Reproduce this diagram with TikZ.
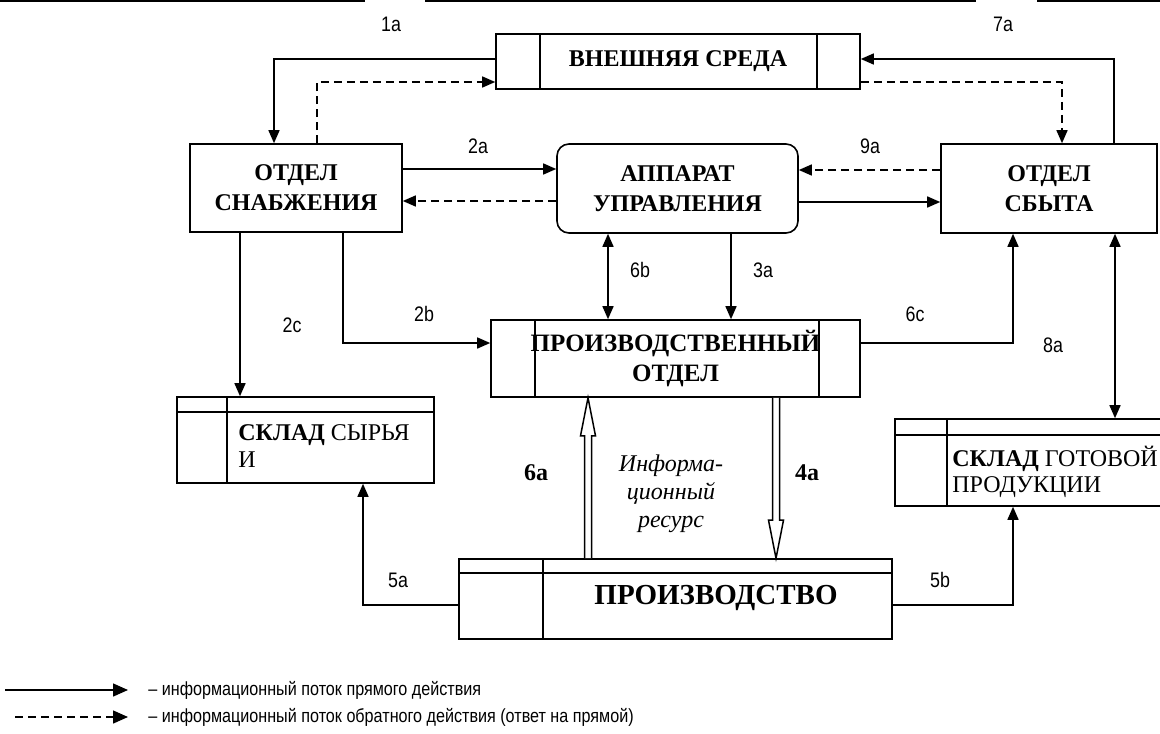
\documentclass[tikz,border=0pt]{standalone}
\usepackage{fontspec}
\setmainfont{Liberation Serif}
\newfontfamily\narrowsans[FakeStretch=0.85]{Liberation Sans}
\usetikzlibrary{arrows.meta}
\tikzset{
  box/.style={draw, line width=0.8pt, inner sep=0pt, align=center,
    font=\fontsize{12}{15}\selectfont\bfseries},
  flow/.style={line width=0.75pt, -{Triangle[length=6.5pt,width=5.5pt]}},
  flowback/.style={flow, dash pattern=on 4pt off 2.5pt},
  both/.style={line width=0.75pt, {Triangle[length=6.5pt,width=5.5pt]}-{Triangle[length=6.5pt,width=5.5pt]}},
  legtip/.style={-{Triangle[length=7.5pt,width=6.5pt]}},
  hollow/.style={line width=0.75pt, fill=white},
  lbl/.style={inner sep=0pt, font=\narrowsans\fontsize{10.5}{12}\selectfont},
  num/.style={inner sep=0pt, font=\fontsize{12}{14}\selectfont\bfseries},
}
\begin{document}
\begin{tikzpicture}[x=0.5pt, y=-0.5pt, line join=miter]
\useasboundingbox (0,0) rectangle (1160,733);
\clip (0,0) rectangle (1160,733);
\draw[line width=1.5pt] (0,1) -- (365,1) (425,1) -- (976,1) (1037,1) -- (1160,1);
% boxes
\node[box, minimum width=182pt, minimum height=27.5pt] (vnesh) at (678,61.5) {ВНЕШНЯЯ СРЕДА};
\draw[line width=0.8pt] ([xshift=22.5pt]vnesh.north west) -- ([xshift=22.5pt]vnesh.south west)
  ([xshift=-22pt]vnesh.north east) -- ([xshift=-22pt]vnesh.south east);
\node[box, minimum width=106pt, minimum height=44pt] (snab) at (296,188) {ОТДЕЛ\\СНАБЖЕНИЯ};
\node[box, rounded corners=6pt, minimum width=120.5pt, minimum height=44.5pt] (appar) at (677.5,188.5) {АППАРАТ\\УПРАВЛЕНИЯ};
\node[box, minimum width=108pt, minimum height=44.5pt] (sbyt) at (1049,188.5) {ОТДЕЛ\\СБЫТА};
\node[box, minimum width=184.5pt, minimum height=38.5pt, font=\fontsize{12.5}{15}\selectfont\bfseries] (proizvotd) at (675.5,358.5) {ПРОИЗВОДСТВЕННЫЙ\\ОТДЕЛ};
\draw[line width=0.8pt] ([xshift=22.5pt]proizvotd.north west) -- ([xshift=22.5pt]proizvotd.south west)
  ([xshift=-21pt]proizvotd.north east) -- ([xshift=-21pt]proizvotd.south east);
\node[box, minimum width=128.5pt, minimum height=43pt] (skladsyr) at (305.5,440) {};
\draw[line width=0.8pt] ([yshift=-8pt]skladsyr.north west) -- ([yshift=-8pt]skladsyr.north east)
  ([xshift=25.5pt]skladsyr.north west) -- ([xshift=25.5pt]skladsyr.south west);
\node[anchor=north west, inner sep=0pt, align=left, font=\fontsize{12}{13.5}\selectfont] (syrtxt) at (238,424) {\textbf{СКЛАД} СЫРЬЯ\\И};
\node[box, minimum width=152.5pt, minimum height=43.5pt] (skladgot) at (1047.5,462.5) {};
\draw[line width=0.8pt] ([yshift=-8.5pt]skladgot.north west) -- ([yshift=-8.5pt]skladgot.north east)
  ([xshift=26.5pt]skladgot.north west) -- ([xshift=26.5pt]skladgot.south west);
\node[anchor=north west, inner sep=0pt, align=left, font=\fontsize{12}{13}\selectfont] (gottxt) at (952,446) {\textbf{СКЛАД} ГОТОВОЙ\\ПРОДУКЦИИ};
\node[box, minimum width=216.5pt, minimum height=40pt] (proizv) at (675.5,599) {};
\draw[line width=0.8pt] ([yshift=-7.5pt]proizv.north west) -- ([yshift=-7.5pt]proizv.north east)
  ([xshift=42.5pt]proizv.north west) -- ([xshift=42.5pt]proizv.south west);
\node[inner sep=0pt, font=\fontsize{14.5}{16}\selectfont\bfseries] (proizvtxt) at (716,598) {ПРОИЗВОДСТВО};
% connectors
\draw[flow] ([yshift=1.25pt]vnesh.west) -| ([xshift=-11pt]snab.north);
\draw[flowback] ([xshift=10.5pt]snab.north) |- ([yshift=-10.25pt]vnesh.west);
\draw[flow] ([xshift=32.5pt]sbyt.north) |- ([yshift=1.25pt]vnesh.east);
\draw[flowback] ([yshift=-10.25pt]vnesh.east) -| ([xshift=6.5pt]sbyt.north);
\draw[flow] ([yshift=9.5pt]snab.east) -- ([yshift=9.5pt]snab.east -| appar.west);
\draw[flowback] ([yshift=-6.5pt]snab.east -| appar.west) -- ([yshift=-6.5pt]snab.east);
\draw[flowback] ([yshift=9.25pt]sbyt.west) -- ([yshift=9.25pt]sbyt.west -| appar.east);
\draw[flow] ([yshift=-6.75pt]sbyt.west -| appar.east) -- ([yshift=-6.75pt]sbyt.west);
\draw[both] ([xshift=-34.75pt]appar.south) -- ([xshift=-34.75pt]appar.south |- proizvotd.north);
\draw[flow] ([xshift=26.75pt]appar.south) -- ([xshift=26.75pt]appar.south |- proizvotd.north);
\draw[flow] ([xshift=23.5pt]snab.south) |- ([yshift=7.75pt]proizvotd.west);
\draw[flow] ([xshift=-28pt]snab.south) -- ([xshift=-28pt]snab.south |- skladsyr.north);
\draw[flow] ([yshift=7.75pt]proizvotd.east) -| ([xshift=-18pt]sbyt.south);
\draw[both] ([xshift=33pt]sbyt.south) -- ([xshift=33pt]sbyt.south |- skladgot.north);
\draw[flow] ([yshift=-3pt]proizv.west) -| ([xshift=28.75pt]skladsyr.south);
\draw[flow] ([yshift=-3pt]proizv.east) -| ([xshift=-17.25pt]skladgot.south);
% hollow arrows
\coordinate (f6a) at ([xshift=-43.75pt]proizv.north);
\coordinate (t6a) at (f6a |- proizvotd.south);
\draw[hollow] ([xshift=-1.75pt]f6a) -- ([xshift=-1.75pt,yshift=-19pt]t6a) -- ([xshift=-3.75pt,yshift=-19pt]t6a)
  -- (t6a) -- ([xshift=3.75pt,yshift=-19pt]t6a) -- ([xshift=1.75pt,yshift=-19pt]t6a) -- ([xshift=1.75pt]f6a);
\coordinate (f4a) at ([xshift=50.25pt]proizvotd.south);
\coordinate (t4a) at (f4a |- proizv.north);
\draw[hollow] ([xshift=-1.75pt]f4a) -- ([xshift=-1.75pt,yshift=19pt]t4a) -- ([xshift=-3.75pt,yshift=19pt]t4a)
  -- (t4a) -- ([xshift=3.75pt,yshift=19pt]t4a) -- ([xshift=1.75pt,yshift=19pt]t4a) -- ([xshift=1.75pt]f4a);
\node[align=center, inner sep=0pt, font=\fontsize{12}{14}\selectfont\itshape] (resurs) at (671,494) {Информа-\\ционный\\ресурс};
% labels
\node[lbl] (l1a) at (391,24) {1a};
\node[lbl] (l7a) at (1003,24) {7a};
\node[lbl] (l2a) at (478,146) {2a};
\node[lbl] (l9a) at (870,146) {9a};
\node[lbl] (l6b) at (640,270) {6b};
\node[lbl] (l3a) at (763,270) {3a};
\node[lbl] (l2c) at (292,325) {2c};
\node[lbl] (l2b) at (424,314) {2b};
\node[lbl] (l6c) at (915,314) {6c};
\node[lbl] (l8a) at (1053,345) {8a};
\node[num] (l6a) at (536,473) {6a};
\node[num] (l4a) at (807,473) {4a};
\node[lbl] (l5a) at (398,580) {5a};
\node[lbl] (l5b) at (940,580) {5b};
% legend
\node[lbl, anchor=west, font=\narrowsans\fontsize{9.5}{11}\selectfont] (leg1) at (148,690) {– информационный поток прямого действия};
\coordinate (leg1s) at (5,690);
\draw[flow, legtip] (leg1s) -- ([xshift=-10pt]leg1.west);
\node[lbl, anchor=west, font=\narrowsans\fontsize{9.5}{11}\selectfont] (leg2) at (148,717) {– информационный поток обратного действия (ответ на прямой)};
\coordinate (leg2s) at (15,717);
\draw[flowback, legtip] (leg2s) -- ([xshift=-10pt]leg2.west);
\end{tikzpicture}
\end{document}
